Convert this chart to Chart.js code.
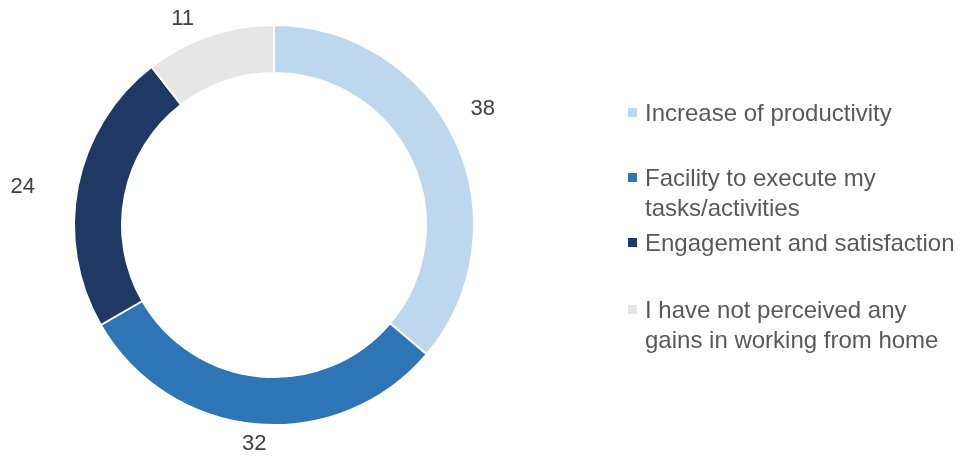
<!DOCTYPE html>
<html>
<head>
<meta charset="utf-8">
<script src="https://cdn.jsdelivr.net/npm/chart.js@4/dist/chart.umd.min.js"></script>
<style>
  html, body { margin: 0; padding: 0; background: #ffffff; }
  #wrap { position: relative; width: 964px; height: 459px; }
  #chart { position: absolute; left: 0; top: 0; }
  .legend-item { position: absolute; left: 628px; width: 336px; font-family: "Liberation Sans", Arial, sans-serif; font-size: 24px; line-height: 30px; color: #595959; }
  .legend-box { position: absolute; left: 0; top: 10px; width: 9px; height: 9px; }
  .legend-text { margin-left: 17px; width: 319px; }
</style>
</head>
<body>
<div id="wrap">
  <canvas id="chart" width="964" height="459"></canvas>
</div>
<script>
// Reported gains from working from home
const categories = [
  'Increase of productivity',
  'Facility to execute my tasks/activities',
  'Engagement and satisfaction',
  'I have not perceived any gains in working from home'
];
const values = [38, 32, 24, 11];
const sliceColors = ['#BDD7EE', '#2E75B6', '#1F3864', '#E7E6E6'];

// Value labels sit just outside the ring, nudged off the slice middle
const labelNudgeDeg = [-4.3, 0, -2.6, -5.1];
const labelGap = [39, 20, 54, 25];
const legendTops = [98, 163, 228, 295];

const outsideLabels = {
  id: 'outsideLabels',
  afterDatasetsDraw(chart) {
    const ctx = chart.ctx;
    const meta = chart.getDatasetMeta(0);
    ctx.save();
    ctx.font = '22px "Liberation Sans", Arial, sans-serif';
    ctx.fillStyle = '#404040';
    ctx.textAlign = 'center';
    ctx.textBaseline = 'middle';
    meta.data.forEach((arc, i) => {
      const p = arc.getProps(['x', 'y', 'startAngle', 'endAngle', 'outerRadius'], true);
      const mid = (p.startAngle + p.endAngle) / 2 + labelNudgeDeg[i] * Math.PI / 180;
      const r = p.outerRadius + labelGap[i];
      ctx.fillText(String(values[i]), p.x + Math.cos(mid) * r, p.y + Math.sin(mid) * r);
    });
    ctx.restore();
  }
};

new Chart(document.getElementById('chart'), {
  type: 'doughnut',
  data: {
    labels: categories,
    datasets: [{
      data: values,
      backgroundColor: sliceColors,
      borderColor: '#ffffff',
      borderWidth: 2
    }]
  },
  options: {
    responsive: false,
    animation: false,
    cutout: '76%',
    layout: { padding: { left: 73, top: 24, right: 489, bottom: 33 } },
    plugins: {
      legend: { display: false },
      tooltip: { enabled: false }
    }
  },
  plugins: [outsideLabels]
});

// Legend beside the ring
const wrap = document.getElementById('wrap');
categories.forEach((name, i) => {
  const item = document.createElement('div');
  item.className = 'legend-item';
  item.style.top = legendTops[i] + 'px';
  const box = document.createElement('div');
  box.className = 'legend-box';
  box.style.background = sliceColors[i];
  const text = document.createElement('div');
  text.className = 'legend-text';
  text.textContent = name;
  item.appendChild(box);
  item.appendChild(text);
  wrap.appendChild(item);
});
</script>
</body>
</html>
